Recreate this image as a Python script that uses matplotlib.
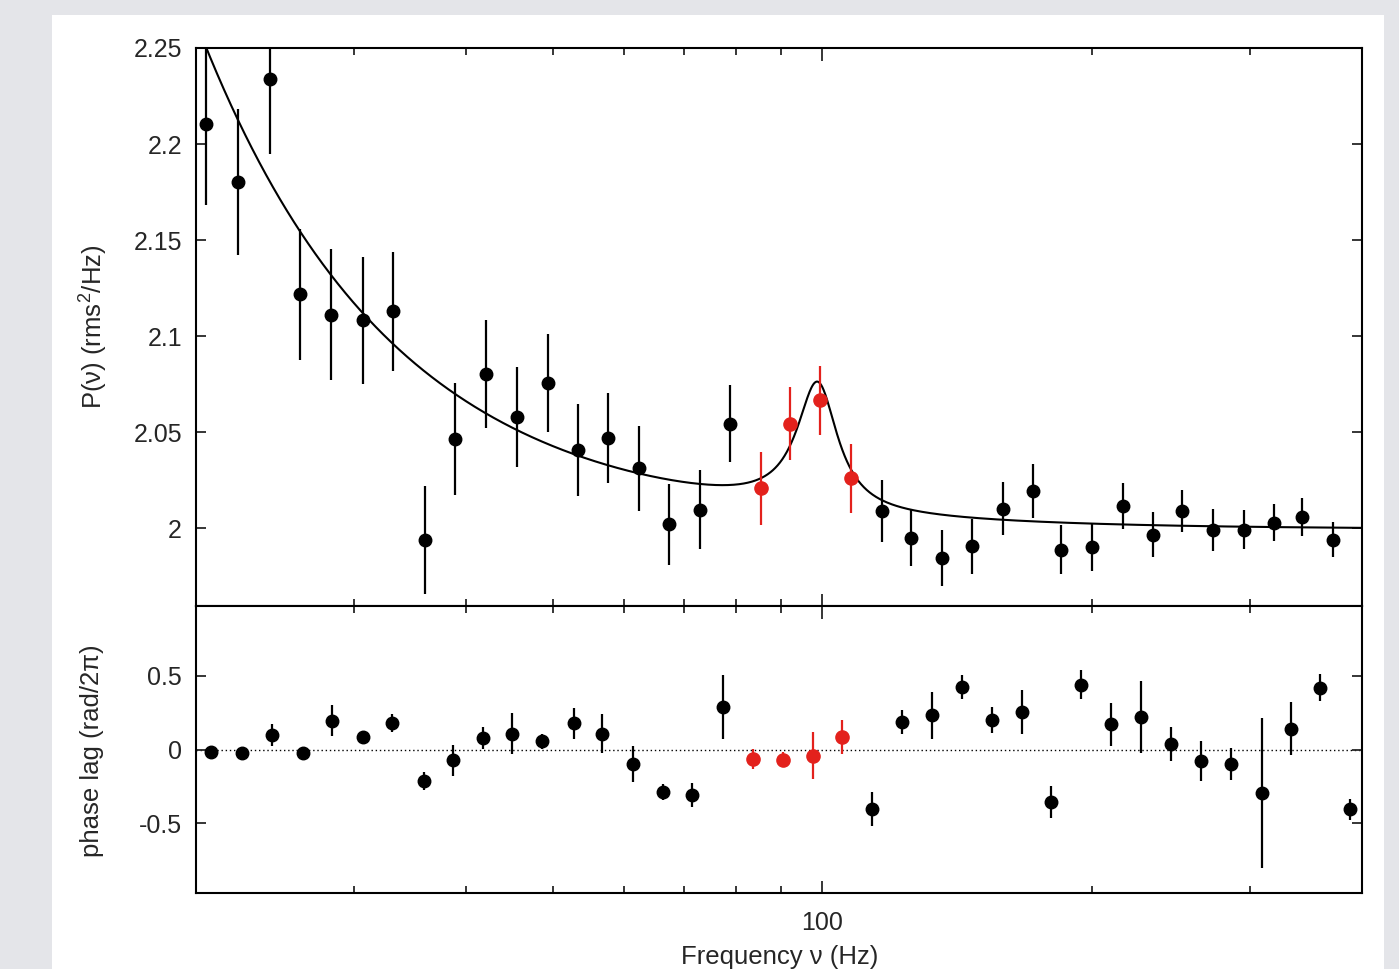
import numpy as np
import matplotlib
matplotlib.use('Agg')
import matplotlib.pyplot as plt
from matplotlib.patches import Rectangle
from matplotlib.ticker import FixedLocator, NullFormatter

plt.rcParams['font.family'] = ['Liberation Sans', 'DejaVu Sans']
plt.rcParams['mathtext.fontset'] = 'custom'
plt.rcParams['mathtext.rm'] = 'Liberation Sans'
plt.rcParams['axes.unicode_minus'] = False

# power spectrum (top panel)
freq_p = [20.5, 22.3, 24.2, 26.1, 28.3, 30.7, 33.2, 36.0, 38.9, 42.1, 45.6, 49.4,
          53.3, 57.7, 62.5, 67.4, 73.0, 78.8, 85.3, 92.1, 99.5, 107.7, 116.6, 125.6,
          135.9, 146.8, 158.9, 171.6, 184.8, 200.0, 216.6, 233.8, 251.9, 272.7,
          295.1, 318.7, 343.2, 371.5]
power = [2.2104, 2.1804, 2.2339, 2.1217, 2.1111, 2.1083, 2.1130, 1.9938, 2.0464,
         2.0802, 2.0580, 2.0757, 2.0406, 2.0470, 2.0311, 2.0021, 2.0097, 2.0545,
         2.0207, 2.0545, 2.0667, 2.0259, 2.0090, 1.9951, 1.9845, 1.9906, 2.0102,
         2.0193, 1.9889, 1.9903, 2.0116, 1.9967, 2.0090, 1.9990, 1.9993, 2.0028,
         2.0059, 1.9941]
power_err = [0.042, 0.038, 0.039, 0.034, 0.034, 0.033, 0.031, 0.028, 0.029, 0.028,
             0.026, 0.0256, 0.024, 0.0235, 0.022, 0.021, 0.0207, 0.0198, 0.019, 0.019,
             0.018, 0.0178, 0.016, 0.015, 0.0145, 0.0143, 0.0139, 0.0139, 0.013,
             0.0124, 0.0118, 0.0115, 0.011, 0.0108, 0.010, 0.0096, 0.0097, 0.0093]
qpo_p = [18, 19, 20, 21]   # indices of the red points

# phase lags (bottom panel)
freq_l = [20.8, 22.5, 24.3, 26.3, 28.4, 30.7, 33.1, 35.9, 38.7, 41.8, 45.1, 48.7,
          52.8, 56.8, 61.5, 66.4, 71.5, 77.5, 83.6, 90.3, 97.5, 105.2, 113.7, 122.7,
          132.5, 143.1, 154.5, 166.8, 180.1, 194.5, 210.0, 226.7, 244.8, 264.4,
          285.4, 309.0, 333.0, 359.4, 388.0]
lag = [-0.018, -0.022, 0.097, -0.027, 0.196, 0.083, 0.180, -0.214, -0.074, 0.079,
       0.108, 0.056, 0.176, 0.108, -0.101, -0.288, -0.309, 0.288, -0.063, -0.068,
       -0.041, 0.083, -0.401, 0.187, 0.230, 0.421, 0.198, 0.255, -0.356, 0.439,
       0.169, 0.221, 0.038, -0.079, -0.097, -0.297, 0.140, 0.417, -0.405]
lag_err = [0.02, 0.03, 0.073, 0.04, 0.105, 0.04, 0.063, 0.062, 0.106, 0.073,
           0.14, 0.05, 0.107, 0.135, 0.122, 0.056, 0.082, 0.216, 0.068, 0.05,
           0.16, 0.116, 0.115, 0.079, 0.162, 0.082, 0.088, 0.149, 0.107, 0.099,
           0.143, 0.245, 0.115, 0.135, 0.107, 0.507, 0.178, 0.091, 0.07]
qpo_l = [18, 19, 20, 21]

# fitted model: constant + power law + Lorentzian
const, pl_norm, pl_index = 1.9995, 105.5, 2.0
lor_amp, lor_f0, lor_hwhm = 0.066, 98.7, 6.3

red = '#e3211c'
txt = '#262626'
W, H = 1399, 969
fig = plt.figure(figsize=(W / 100, H / 100), dpi=100)
fig.patch.set_facecolor('#e4e5e9')
fig.add_artist(Rectangle((52 / W, 0), (1384 - 52) / W, 1 - 15 / H,
                         transform=fig.transFigure, facecolor='white',
                         edgecolor='none', zorder=0))

left, width = 196 / W, (1362 - 196) / W
ax1 = fig.add_axes([left, 1 - 606 / H, width, (606 - 48) / H])
ax2 = fig.add_axes([left, 1 - 893 / H, width, (893 - 606) / H], sharex=ax1)

fp = np.array(freq_p)
pw = np.array(power)
pe = np.array(power_err)
blk = [i for i in range(len(fp)) if i not in qpo_p]
ax1.errorbar(fp[blk], pw[blk], yerr=pe[blk], fmt='o', color='black', ms=9,
             elinewidth=1.6, capsize=0, zorder=3)
ax1.errorbar(fp[qpo_p], pw[qpo_p], yerr=pe[qpo_p], fmt='o', color=red, ms=9.5,
             elinewidth=1.6, capsize=0, zorder=3)

fm = np.logspace(np.log10(20), np.log10(400), 2000)
model = const + pl_norm * fm ** -pl_index + lor_amp / (1 + ((fm - lor_f0) / lor_hwhm) ** 2)
ax1.plot(fm, model, color='black', lw=1.5, zorder=2)

fl = np.array(freq_l)
lg = np.array(lag)
le = np.array(lag_err)
blk = [i for i in range(len(fl)) if i not in qpo_l]
ax2.axhline(0, color='black', lw=1.0, ls=(0, (1, 2)), zorder=1)
ax2.errorbar(fl[blk], lg[blk], yerr=le[blk], fmt='o', color='black', ms=9,
             elinewidth=1.6, capsize=0, zorder=3)
ax2.errorbar(fl[qpo_l], lg[qpo_l], yerr=le[qpo_l], fmt='o', color=red, ms=9.5,
             elinewidth=1.6, capsize=0, zorder=3)

for ax in (ax1, ax2):
    ax.set_xscale('log')
    ax.set_xlim(20, 400)
    for s in ax.spines.values():
        s.set_linewidth(1.5)
    ax.tick_params(which='both', direction='in', top=True, right=True,
                   labelsize=18, colors=txt, width=1.3)
    ax.tick_params(which='major', length=9)
    ax.tick_params(which='minor', length=5)
    ax.xaxis.set_major_locator(FixedLocator([100]))
    ax.xaxis.set_minor_locator(FixedLocator([30, 40, 50, 60, 70, 80, 90, 200, 300]))
    ax.xaxis.set_minor_formatter(NullFormatter())
    ax.tick_params(axis='y', which='major', length=7, pad=10)

ax1.set_ylim(1.9595, 2.25)
ax1.set_yticks([2.0, 2.05, 2.1, 2.15, 2.2, 2.25])
ax1.set_yticklabels(['2', '2.05', '2.1', '2.15', '2.2', '2.25'])
ax1.tick_params(axis='x', labelbottom=False)

ax2.set_ylim(-0.97, 0.97)
ax2.set_yticks([-0.5, 0, 0.5])
ax2.set_yticklabels(['-0.5', '0', '0.5'])
ax2.set_xticklabels(['100'])
ax2.tick_params(axis='x', pad=13)

fig.text(93 / W, 1 - 327 / H, 'P(ν) (rms$^2$/Hz)', rotation=90, ha='center',
         va='center', fontsize=18.5, color=txt)
fig.text(92 / W, 1 - 751 / H, 'phase lag (rad/2π)', rotation=90, ha='center',
         va='center', fontsize=18.5, color=txt)
fig.text(780 / W, 1 - 957 / H, 'Frequency ν (Hz)', ha='center', va='center',
         fontsize=18.5, color=txt)

fig.savefig('out.png', dpi=100, facecolor=fig.get_facecolor())
